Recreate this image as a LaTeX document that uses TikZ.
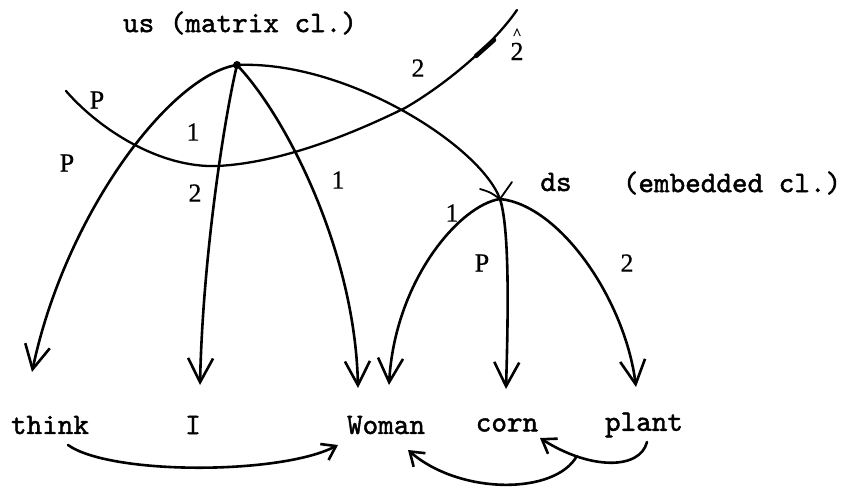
\documentclass[tikz,border=0pt]{standalone}
\usepackage{fontspec}
\setmonofont{lmmono10-regular.otf}[FakeBold=1.5]
\newfontfamily\labelfont{Liberation Serif}[FakeBold=0.6]
\usetikzlibrary{arrows.meta,calc}
\begin{document}
\begin{tikzpicture}[x=1pt,y=-1pt,
  word/.style={font=\ttfamily\fontsize{29.7}{32}\selectfont, inner sep=0pt, anchor=center},
  lbl/.style={font=\labelfont\fontsize{26}{28}\selectfont, inner sep=0pt},
  arc/.style={line width=2.6pt, line cap=round, line join=round},
  bigarrow/.style={arc, -{Straight Barb[length=24pt,width=25pt]}},
  smallarrow/.style={arc, -{Straight Barb[length=13pt,width=18pt]}}]
\useasboundingbox (0,0) rectangle (855,488);
\fill[white] (0,0) rectangle (855,488);

% text nodes
\node[word] (lus) at (240,23) {us (matrix cl.)};
\node[word] (lds) at (556,182) {ds};
\node[word] (lemb) at (732,183) {(embedded cl.)};
\node[word] (think) at (50,425) {think};
\node[word] (I) at (193,425) {I};
\node[word] (Woman) at (386,425) {Woman};
\node[word] (corn) at (507,425) {corn};
\node[word] (plant) at (644,425) {plant};

% arc nodes
\coordinate (us) at (237,65);
\coordinate (ds) at (500,199);
\fill (us) circle (4);

% arrow ends above words
\coordinate (tThink) at ($(think)+(-18,-53)$);
\coordinate (tI) at ($(I)+(7,-40)$);
\coordinate (tWomanA) at ($(Woman)+(-28,-37)$);
\coordinate (tWomanB) at ($(Woman)+(3,-40)$);
\coordinate (tCorn) at ($(corn)+(-1,-36)$);
\coordinate (tPlant) at ($(plant)+(-8,-38)$);

% arcs from us
\draw[bigarrow] (us) .. controls (170,75) and (65,215) .. (tThink);
\draw[bigarrow] (us) .. controls (226,110) and (203,250) .. (tI);
\draw[bigarrow] (us) .. controls (285,115) and (355,250) .. (tWomanA);
\draw[arc, line width=2.3pt] (us) .. controls (345,60) and (480,145) .. (ds);

% arcs from ds
\draw[bigarrow] (ds) .. controls (510,230) and (508,320) .. (tCorn);
\draw[bigarrow] (ds) .. controls (460,205) and (395,280) .. (tWomanB);
\draw[bigarrow] (ds) .. controls (560,205) and (625,300) .. (tPlant);
% small marks at ds
\draw[arc, line width=1.8pt] ($(ds)+(-20,-10)$) .. controls ($(ds)+(-10,-7)$) .. (ds);
\draw[arc, line width=1.8pt] (ds) -- ($(ds)+(12,-17)$);

% the crossing curve
\coordinate (pA) at (66,91);
\coordinate (pB) at (217,166);
\coordinate (pC) at (405,108);
\coordinate (pD) at (517,10);
\draw[arc, line width=2.3pt] (pA) .. controls (100,130) and (160,168) .. (pB)
  .. controls (280,163) and (350,135) .. (pC)
  .. controls (445,85) and (493,45) .. (pD);
\draw[arc, line width=4.5pt] (476,56) -- (494,40);

% labels
\node[lbl] (lP1) at (97,100) {P};
\node[lbl] (lP2) at (67,163) {P};
\node[lbl] (l1a) at (193,132) {1};
\node[lbl] (l2a) at (195,193) {2};
\node[lbl] (l1b) at (338,180) {1};
\node[lbl] (l2b) at (418,68) {2};
\node[lbl, anchor=base] (l2hat) at (517,60)
  {\makebox[0pt][l]{\hspace{2.75pt}\raisebox{21pt}{\fontsize{16}{16}\selectfont\textasciicircum}}2};
\node[lbl] (l1c) at (452,213) {1};
\node[lbl] (lP3) at (482,263) {P};
\node[lbl] (l2c) at (627,263) {2};

% bottom arrows
\coordinate (sThink) at ($(think)+(18,20)$);
\coordinate (eWomanA) at ($(Woman)+(-48,20)$);
\draw[smallarrow] (sThink) .. controls (110,475) and (280,475) .. (eWomanA);
\coordinate (sPlant) at ($(plant)+(3,17)$);
\coordinate (eCorn) at ($(corn)+(33,13)$);
\draw[smallarrow] (sPlant) .. controls (640,470) and (590,470) .. coordinate[pos=0.75] (br) (eCorn);
\coordinate (eWomanB) at ($(Woman)+(22,25)$);
\draw[smallarrow] (br) .. controls (555,495) and (460,495) .. (eWomanB);
\end{tikzpicture}
\end{document}
